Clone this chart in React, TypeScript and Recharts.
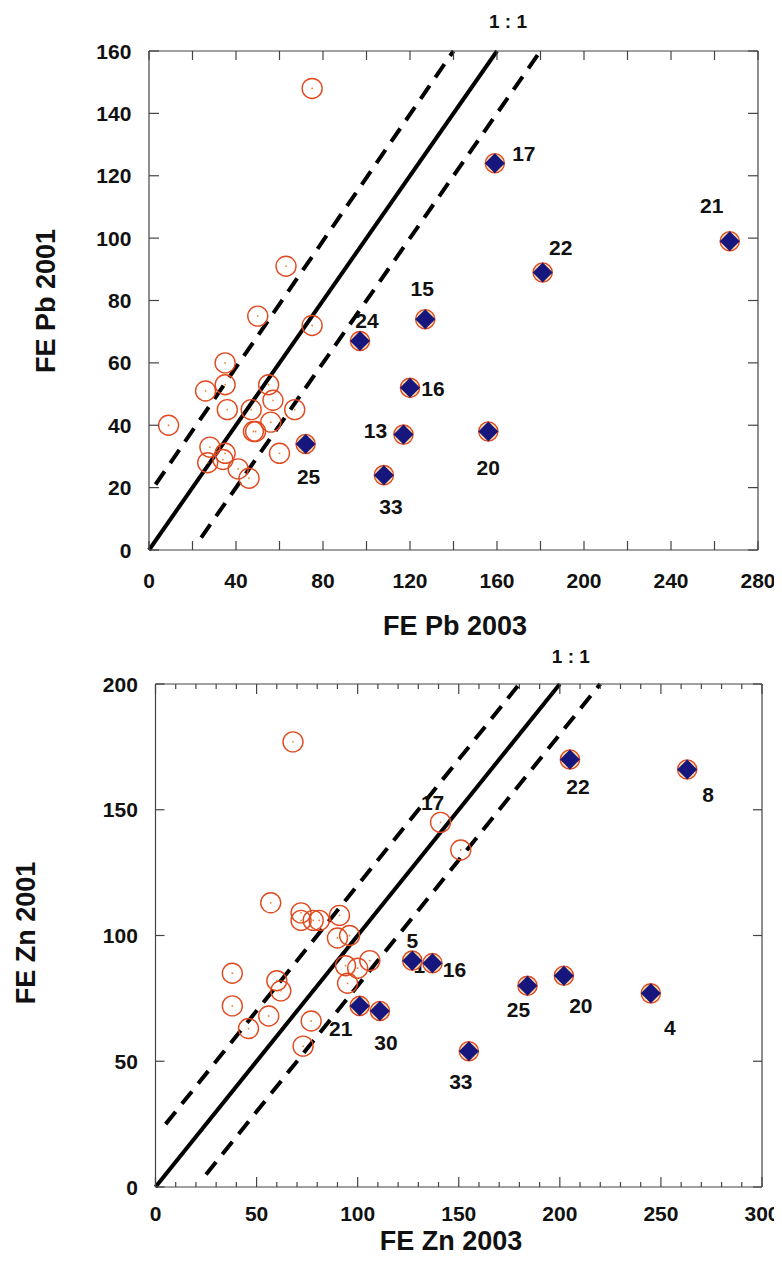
import React from 'react';
import { ScatterChart, Scatter, XAxis, YAxis, ReferenceLine } from 'recharts';

// ---------- data: FE Pb ----------
const pbXTicks = [0, 20, 40, 60, 80, 100, 120, 140, 160, 180, 200, 220, 240, 260, 280];
const pbYTicks = [0, 20, 40, 60, 80, 100, 120, 140, 160];
const pbCircles = [
  { x: 63, y: 91 }, { x: 50, y: 75 }, { x: 75, y: 72 }, { x: 35, y: 60 }, { x: 26, y: 51 },
  { x: 35, y: 53 }, { x: 55, y: 53 }, { x: 57, y: 48 }, { x: 36, y: 45 }, { x: 47, y: 45 },
  { x: 67, y: 45 }, { x: 9, y: 40 }, { x: 56, y: 41 }, { x: 48, y: 38 }, { x: 49, y: 38 },
  { x: 28, y: 33 }, { x: 35, y: 31 }, { x: 34, y: 29 }, { x: 27, y: 28 }, { x: 41, y: 26 },
  { x: 46, y: 23 }, { x: 60, y: 31 }, { x: 75, y: 148 },
];
const pbOutliers = [
  { x: 97, y: 67, text: '24' }, { x: 127, y: 74, text: '15' }, { x: 120, y: 52, text: '16' },
  { x: 117, y: 37, text: '13' }, { x: 108, y: 24, text: '33' }, { x: 72, y: 34, text: '25' },
  { x: 159, y: 124, text: '17' }, { x: 181, y: 89, text: '22' }, { x: 267, y: 99, text: '21' },
  { x: 156, y: 38, text: '20' },
];
const pbOneToOne = [{ x: 0, y: 0 }, { x: 160, y: 160 }];
const pbUpper = [{ x: 3, y: 21 }, { x: 140, y: 160 }];
const pbLower = [{ x: 24, y: 4 }, { x: 180, y: 160 }];
const pbRatioLabel = [{ x: 160, y: 160, text: '1 : 1' }];

// ---------- data: FE Zn ----------
const znXTicks = [0, 10, 20, 30, 40, 50, 60, 70, 80, 90, 100, 110, 120, 130, 140, 150, 160, 170, 180, 190, 200, 210, 220, 230, 240, 250, 260, 270, 280, 290, 300];
const znYTicks = [0, 50, 100, 150, 200];
const znCircles = [
  { x: 57, y: 113 }, { x: 72, y: 109 }, { x: 72, y: 106 }, { x: 78, y: 106 }, { x: 81, y: 106 },
  { x: 91, y: 108 }, { x: 90, y: 99 }, { x: 96, y: 100 }, { x: 106, y: 90 }, { x: 94, y: 88 },
  { x: 100, y: 87 }, { x: 95, y: 81 }, { x: 38, y: 85 }, { x: 60, y: 82 }, { x: 62, y: 78 },
  { x: 38, y: 72 }, { x: 56, y: 68 }, { x: 46, y: 63 }, { x: 77, y: 66 }, { x: 73, y: 56 },
  { x: 68, y: 177 }, { x: 141, y: 145 }, { x: 151, y: 134 },
];
const znOutliers = [
  { x: 127, y: 90, text: '5' }, { x: 137, y: 89, text: '16' }, { x: 101, y: 72, text: '21' },
  { x: 111, y: 70, text: '30' }, { x: 155, y: 54, text: '33' }, { x: 205, y: 170, text: '22' },
  { x: 263, y: 166, text: '8' }, { x: 184, y: 80, text: '25' }, { x: 202, y: 84, text: '20' },
  { x: 245, y: 77, text: '4' },
];
const znExtraLabels = [
  { x: 141, y: 145, text: '17' },
  { x: 127, y: 90, text: '16' },
];
const znOneToOne = [{ x: 0, y: 0 }, { x: 200, y: 200 }];
const znUpper = [{ x: 5, y: 25 }, { x: 180, y: 200 }];
const znLower = [{ x: 25, y: 5 }, { x: 220, y: 200 }];
const znRatioLabel = [{ x: 200, y: 200, text: '1 : 1' }];

// ---------- styles ----------
const FONT = '"Liberation Sans", Arial, Helvetica, sans-serif';
const RED = '#e04a1f';
const NAVY = '#16167c';
const AXIS = '#444';
const TEXT = '#111';
const TICK_FS = 21;

// label centre offsets (px) keyed by "text@x,y"
const LABEL_OFFSETS: Record<string, [number, number]> = {
  '24@97,67': [7, -21], '15@127,74': [-3, -31], '16@120,52': [23, 1], '13@117,37': [-28, -4],
  '33@108,24': [7, 31], '25@72,34': [3, 32], '17@159,124': [29, -10], '22@181,89': [18, -25],
  '21@267,99': [-18, -36], '20@156,38': [0, 36],
  '5@127,90': [0, -20], '16@137,89': [22, 6], '21@101,72': [-19, 23], '30@111,70': [6, 31],
  '33@155,54': [-8, 30], '22@205,170': [8, 27], '8@263,166': [21, 25], '25@184,80': [-9, 24],
  '20@202,84': [17, 30], '4@245,77': [19, 34], '17@141,145': [-8, -20], '16@127,90': [13, 5],
  '1 : 1@160,160': [11, -30], '1 : 1@200,200': [11, -28],
};

type Orient = 'bottom' | 'top' | 'left' | 'right';
interface TickCfg {
  orient: Orient;
  majorLen: number;
  minorLen?: number;
  major?: (v: number) => boolean;
  label?: (v: number) => boolean;
  gap?: number;
}

const makeTick = (cfg: TickCfg) => (props: any) => {
  const { x, y, payload } = props;
  const v = Number(payload?.value);
  const isMajor = cfg.major ? cfg.major(v) : true;
  const len = isMajor ? cfg.majorLen : (cfg.minorLen ?? cfg.majorLen);
  let x2 = x;
  let y2 = y;
  if (cfg.orient === 'bottom') y2 = y - len;
  if (cfg.orient === 'top') y2 = y + len;
  if (cfg.orient === 'left') x2 = x + len;
  if (cfg.orient === 'right') x2 = x - len;
  const show = cfg.label ? cfg.label(v) : false;
  const gap = cfg.gap ?? 0;
  let txt: React.ReactNode = null;
  if (show && cfg.orient === 'bottom') {
    txt = (
      <text x={x} y={y + gap + 0.716 * TICK_FS} textAnchor="middle" fontFamily={FONT} fontWeight="bold" fontSize={TICK_FS} fill={TEXT}>
        {String(v)}
      </text>
    );
  }
  if (show && cfg.orient === 'left') {
    txt = (
      <text x={x - gap} y={y + 0.36 * TICK_FS} textAnchor="end" fontFamily={FONT} fontWeight="bold" fontSize={TICK_FS} fill={TEXT}>
        {String(v)}
      </text>
    );
  }
  return (
    <g>
      <line x1={x} y1={y} x2={x2} y2={y2} stroke={AXIS} strokeWidth={1.2} />
      {txt}
    </g>
  );
};

const OpenCircle = (props: any) => {
  const { cx, cy } = props;
  if (cx == null || cy == null) return <g />;
  return (
    <g>
      <circle cx={cx} cy={cy} r={10} fill="none" stroke={RED} strokeWidth={1.4} />
      <circle cx={cx} cy={cy} r={0.9} fill="#e8863a" />
    </g>
  );
};

const DiamondMark = (props: any) => {
  const { cx, cy } = props;
  if (cx == null || cy == null) return <g />;
  const h = 10;
  return (
    <g>
      <circle cx={cx} cy={cy} r={9.6} fill="#f4dcb4" stroke={RED} strokeWidth={1.4} />
      <polygon points={`${cx},${cy - h} ${cx + h},${cy} ${cx},${cy + h} ${cx - h},${cy}`} fill={NAVY} />
    </g>
  );
};

const makeLabel = (fs: number) => (props: any) => {
  const { cx, cy, payload } = props;
  if (cx == null || cy == null || !payload) return <g />;
  const key = `${payload.text}@${payload.x},${payload.y}`;
  const off = LABEL_OFFSETS[key] || [0, 0];
  return (
    <text
      x={cx + off[0]}
      y={cy + off[1] + 0.36 * fs}
      textAnchor="middle"
      fontFamily={FONT}
      fontWeight="bold"
      fontSize={fs}
      fill={TEXT}
    >
      {payload.text}
    </text>
  );
};

const noShape = () => <g />;

const xTitle = (text: string, cx: number, baseline: number) => () => (
  <text x={cx} y={baseline} textAnchor="middle" fontFamily={FONT} fontWeight="bold" fontSize={27} fill={TEXT}>
    {text}
  </text>
);

const yTitle = (text: string, bx: number, cy: number) => () => (
  <text
    x={bx}
    y={cy}
    transform={`rotate(-90, ${bx}, ${cy})`}
    textAnchor="middle"
    fontFamily={FONT}
    fontWeight="bold"
    fontSize={27}
    fill={TEXT}
  >
    {text}
  </text>
);

const lineStyle = { stroke: '#000', strokeWidth: 4 };
const dashStyle = { stroke: '#000', strokeWidth: 4, strokeDasharray: '16 10' };

function PbChart() {
  return (
    <ScatterChart width={774} height={632} margin={{ top: 42, right: 23, bottom: 0, left: 0 }} style={{ overflow: 'visible' }}>
      <XAxis
        xAxisId="t" orientation="top" type="number" dataKey="x" domain={[0, 280]} ticks={pbXTicks}
        interval={0} height={1} tickSize={0} tickMargin={0} tickLine={false}
        tick={makeTick({ orient: 'top', majorLen: 9 })} axisLine={{ stroke: AXIS, strokeWidth: 1.2 }}
      />
      <XAxis
        type="number" dataKey="x" domain={[0, 280]} ticks={pbXTicks} interval={0} height={90}
        tickSize={0} tickMargin={0} tickLine={false}
        tick={makeTick({ orient: 'bottom', majorLen: 9, label: (v) => v % 40 === 0, gap: 23 })}
        axisLine={{ stroke: AXIS, strokeWidth: 1.2 }}
        label={{ content: xTitle('FE Pb 2003', 447, 627) } as any}
      />
      <YAxis
        type="number" dataKey="y" domain={[0, 160]} ticks={pbYTicks} interval={0} width={141}
        tickSize={0} tickMargin={0} tickLine={false}
        tick={makeTick({ orient: 'left', majorLen: 10, label: () => true, gap: 17.6 })}
        axisLine={{ stroke: AXIS, strokeWidth: 1.2 }}
        label={{ content: yTitle('FE Pb 2001', 47, 293) } as any}
      />
      <YAxis
        yAxisId="r" orientation="right" type="number" dataKey="y" domain={[0, 160]} ticks={pbYTicks}
        interval={0} width={1} tickSize={0} tickMargin={0} tickLine={false}
        tick={makeTick({ orient: 'right', majorLen: 10 })} axisLine={{ stroke: AXIS, strokeWidth: 1.2 }}
      />
      <Scatter xAxisId="t" yAxisId="r" data={pbCircles} shape={noShape} isAnimationActive={false} />
      <ReferenceLine segment={pbOneToOne} {...lineStyle} />
      <ReferenceLine segment={pbUpper} {...dashStyle} />
      <ReferenceLine segment={pbLower} {...dashStyle} />
      <Scatter data={pbCircles} shape={OpenCircle} isAnimationActive={false} />
      <Scatter data={pbOutliers} shape={makeLabel(21)} isAnimationActive={false} />
      <Scatter data={pbOutliers} shape={DiamondMark} isAnimationActive={false} />
      <Scatter data={pbRatioLabel} shape={makeLabel(19)} isAnimationActive={false} />
    </ScatterChart>
  );
}

function ZnChart() {
  const isMajor = (v: number) => v % 50 === 0;
  return (
    <ScatterChart width={774} height={622} margin={{ top: 43, right: 19, bottom: 0, left: 0 }} style={{ overflow: 'visible' }}>
      <XAxis
        xAxisId="t" orientation="top" type="number" dataKey="x" domain={[0, 300]} ticks={znXTicks}
        interval={0} height={1} tickSize={0} tickMargin={0} tickLine={false}
        tick={makeTick({ orient: 'top', majorLen: 10, minorLen: 5, major: isMajor })}
        axisLine={{ stroke: AXIS, strokeWidth: 1.2 }}
      />
      <XAxis
        type="number" dataKey="x" domain={[0, 300]} ticks={znXTicks} interval={0} height={75}
        tickSize={0} tickMargin={0} tickLine={false}
        tick={makeTick({ orient: 'bottom', majorLen: 10, minorLen: 5, major: isMajor, label: isMajor, gap: 19 })}
        axisLine={{ stroke: AXIS, strokeWidth: 1.2 }}
        label={{ content: xTitle('FE Zn 2003', 443, 610) } as any}
      />
      <YAxis
        type="number" dataKey="y" domain={[0, 200]} ticks={znYTicks} interval={0} width={147.5}
        tickSize={0} tickMargin={0} tickLine={false}
        tick={makeTick({ orient: 'left', majorLen: 9, label: () => true, gap: 17.6 })}
        axisLine={{ stroke: AXIS, strokeWidth: 1.2 }}
        label={{ content: yTitle('FE Zn 2001', 27, 293) } as any}
      />
      <YAxis
        yAxisId="r" orientation="right" type="number" dataKey="y" domain={[0, 200]} ticks={znYTicks}
        interval={0} width={1} tickSize={0} tickMargin={0} tickLine={false}
        tick={makeTick({ orient: 'right', majorLen: 9 })} axisLine={{ stroke: AXIS, strokeWidth: 1.2 }}
      />
      <Scatter xAxisId="t" yAxisId="r" data={znCircles} shape={noShape} isAnimationActive={false} />
      <ReferenceLine segment={znOneToOne} {...lineStyle} />
      <ReferenceLine segment={znUpper} {...dashStyle} />
      <ReferenceLine segment={znLower} {...dashStyle} />
      <Scatter data={znCircles} shape={OpenCircle} isAnimationActive={false} />
      <Scatter data={znExtraLabels} shape={makeLabel(21)} isAnimationActive={false} />
      <Scatter data={znOutliers} shape={makeLabel(21)} isAnimationActive={false} />
      <Scatter data={znOutliers} shape={DiamondMark} isAnimationActive={false} />
      <Scatter data={znRatioLabel} shape={makeLabel(19)} isAnimationActive={false} />
    </ScatterChart>
  );
}

export default function App() {
  return (
    <div style={{ width: 774, background: '#fff' }}>
      <PbChart />
      <ZnChart />
    </div>
  );
}
